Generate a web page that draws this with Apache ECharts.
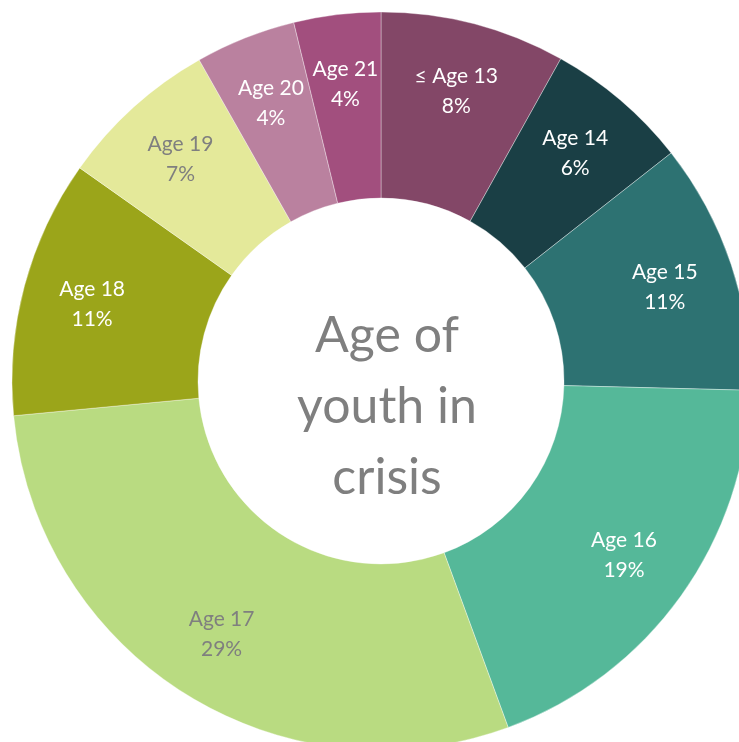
<!DOCTYPE html>
<html>
<head>
<meta charset="utf-8">
<script src="https://cdn.jsdelivr.net/npm/echarts@6/dist/echarts.min.js"></script>
<style>
  html, body { margin: 0; padding: 0; background: #ffffff; }
  #chart { width: 739px; height: 742px; }
</style>
</head>
<body>
<div id="chart"></div>
<script>
// Data (percent of youth in crisis by age)
const categories = ['≤ Age 13', 'Age 14', 'Age 15', 'Age 16', 'Age 17', 'Age 18', 'Age 19', 'Age 20', 'Age 21'];
const values = [8.1, 6.3, 11.0, 19.0, 29.1, 11.3, 7.0, 4.4, 3.8];
const colors = ['#834767', '#1a3f45', '#2d7272', '#55b899', '#b9db81', '#9ba51a', '#e4e99a', '#ba819f', '#a24f7e'];
const labelColors = ['#ffffff', '#ffffff', '#ffffff', '#ffffff', '#7f7f7f', '#ffffff', '#7f7f7f', '#ffffff', '#ffffff'];
const centerTitle = 'Age of\nyouth in\ncrisis';

const FONT = 'Lato, "Open Sans", sans-serif';

const mainData = categories.map((c, i) => ({
  name: c,
  value: values[i],
  itemStyle: { color: colors[i] }
}));

const labelData = categories.map((c, i) => ({
  name: c,
  value: values[i],
  itemStyle: { color: 'rgba(0,0,0,0)' },
  label: { color: labelColors[i] }
}));

const chart = echarts.init(document.getElementById('chart'), null, { renderer: 'canvas' });
chart.setOption({
  backgroundColor: '#ffffff',
  animation: false,
  title: {
    text: centerTitle,
    left: 382,
    top: 402,
    textAlign: 'center',
    textVerticalAlign: 'middle',
    textStyle: {
      fontFamily: FONT,
      fontSize: 50,
      fontWeight: 'normal',
      color: '#7f7f7f',
      lineHeight: 71
    }
  },
  series: [
    {
      type: 'pie',
      center: [381, 381],
      radius: [183, 369],
      startAngle: 90,
      clockwise: true,
      silent: true,
      label: { show: false },
      labelLine: { show: false },
      itemStyle: { borderColor: 'rgba(255,255,255,0.6)', borderWidth: 0.6 },
      data: mainData
    },
    {
      type: 'pie',
      center: [381, 381],
      radius: [222, 370],
      startAngle: 90,
      clockwise: true,
      silent: true,
      z: 5,
      labelLine: { show: false },
      label: {
        show: true,
        position: 'inside',
        fontFamily: FONT,
        fontSize: 21,
        lineHeight: 30,
        formatter: p => p.name + '\n' + Math.round(p.value) + '%'
      },
      itemStyle: { borderWidth: 0 },
      data: labelData
    }
  ]
});
</script>
</body>
</html>
